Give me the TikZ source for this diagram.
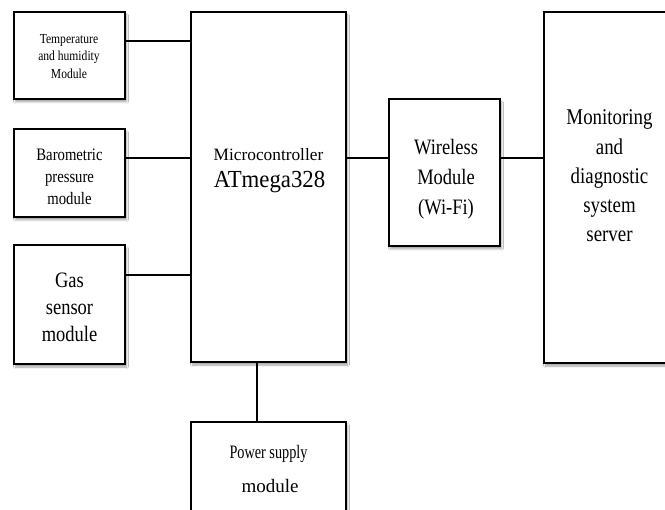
\documentclass[tikz,border=0pt]{standalone}
\usepackage{fontspec}
\setmainfont{Liberation Serif}
\newfontfamily\serifN{Liberation Serif}
\newfontfamily\serifM[FakeStretch=0.93]{Liberation Serif}
\newfontfamily\serifC[FakeStretch=0.84]{Liberation Serif}
\newfontfamily\serifT[FakeStretch=0.75]{Liberation Serif}
\usetikzlibrary{shadows.blur}
\begin{document}
\begin{tikzpicture}[x=1pt,y=-1pt,
  box/.style={draw=black, line width=1.4pt, fill=white, inner sep=0pt, outer sep=0pt,
    blur shadow={shadow xshift=1.5pt, shadow yshift=-3pt, shadow blur steps=6, shadow opacity=35}},
  wire/.style={draw=black, line width=1.4pt},
  lbl/.style={inner sep=0pt, outer sep=0pt, align=center, text=black}]
\useasboundingbox (0,0) rectangle (665,510);
\fill[white] (0,0) rectangle (665,510);
\clip (0,0) rectangle (665,510);

% boxes
\node[box, minimum width=111pt, minimum height=87pt]  (temp)   at (69.5,55.5) {};
\node[box, minimum width=111pt, minimum height=88pt]  (baro)   at (69.5,173) {};
\node[box, minimum width=111pt, minimum height=119pt] (gas)    at (69.5,304.5) {};
\node[box, minimum width=155pt, minimum height=350pt] (micro)  at (268.5,187) {};
\node[box, minimum width=111pt, minimum height=147pt] (wifi)   at (444.5,172.5) {};
\node[box, minimum width=136pt, minimum height=351pt] (server) at (612,187.5) {};
\node[box, minimum width=155pt, minimum height=118pt] (power)  at (268.5,481) {};

% labels
\node[lbl, font=\serifC\fontsize{13.8}{17.5}\selectfont] (tempT) at (69,56.2)
  {Temperature\\and humidity\\Module};
\node[lbl, font=\serifC\fontsize{17.5}{22}\selectfont] (baroT) at (69.5,176.4)
  {Barometric\\pressure\\module};
\node[lbl, font=\serifC\fontsize{22}{27}\selectfont] (gasT) at (69.5,307.5)
  {Gas\\sensor\\module};
\node[lbl, anchor=base, font=\serifN\fontsize{17.3}{18}\selectfont] (microA) at (268.5,161) {Microcontroller};
\node[lbl, anchor=base, font=\serifM\fontsize{24.5}{27}\selectfont] (microB) at (269.5,188) {ATmega328};
\node[lbl, font=\serifC\fontsize{22}{30}\selectfont] (wifiT) at (446,179)
  {Wireless\\Module\\(Wi-Fi)};
\node[lbl, font=\serifC\fontsize{22.5}{29.25}\selectfont] (serverT) at (609.5,176)
  {Monitoring\\and\\diagnostic\\system\\server};
\node[lbl, anchor=base, font=\serifT\fontsize{19}{21}\selectfont] (powerA) at (268.5,459) {Power supply};
\node[lbl, anchor=base, font=\serifN\fontsize{19}{21}\selectfont] (powerB) at (270,493) {module};

% connectors
\coordinate (c1) at ([yshift=14.5pt]temp.east);
\coordinate (c2) at ([yshift=15pt]baro.east);
\coordinate (c3) at ([yshift=29.5pt]gas.east);
\coordinate (c4) at ([yshift=14.5pt]wifi.west);
\coordinate (c5) at ([yshift=14.5pt]wifi.east);
\coordinate (c6) at ([xshift=-11.5pt]power.north);
\draw[wire] (c1) -- (c1 -| micro.west);
\draw[wire] (c2) -- (c2 -| micro.west);
\draw[wire] (c3) -- (c3 -| micro.west);
\draw[wire] (c4 -| micro.east) -- (c4);
\draw[wire] (c5) -- (c5 -| server.west);
\draw[wire] (c6) -- (c6 |- micro.south);
\end{tikzpicture}
\end{document}
